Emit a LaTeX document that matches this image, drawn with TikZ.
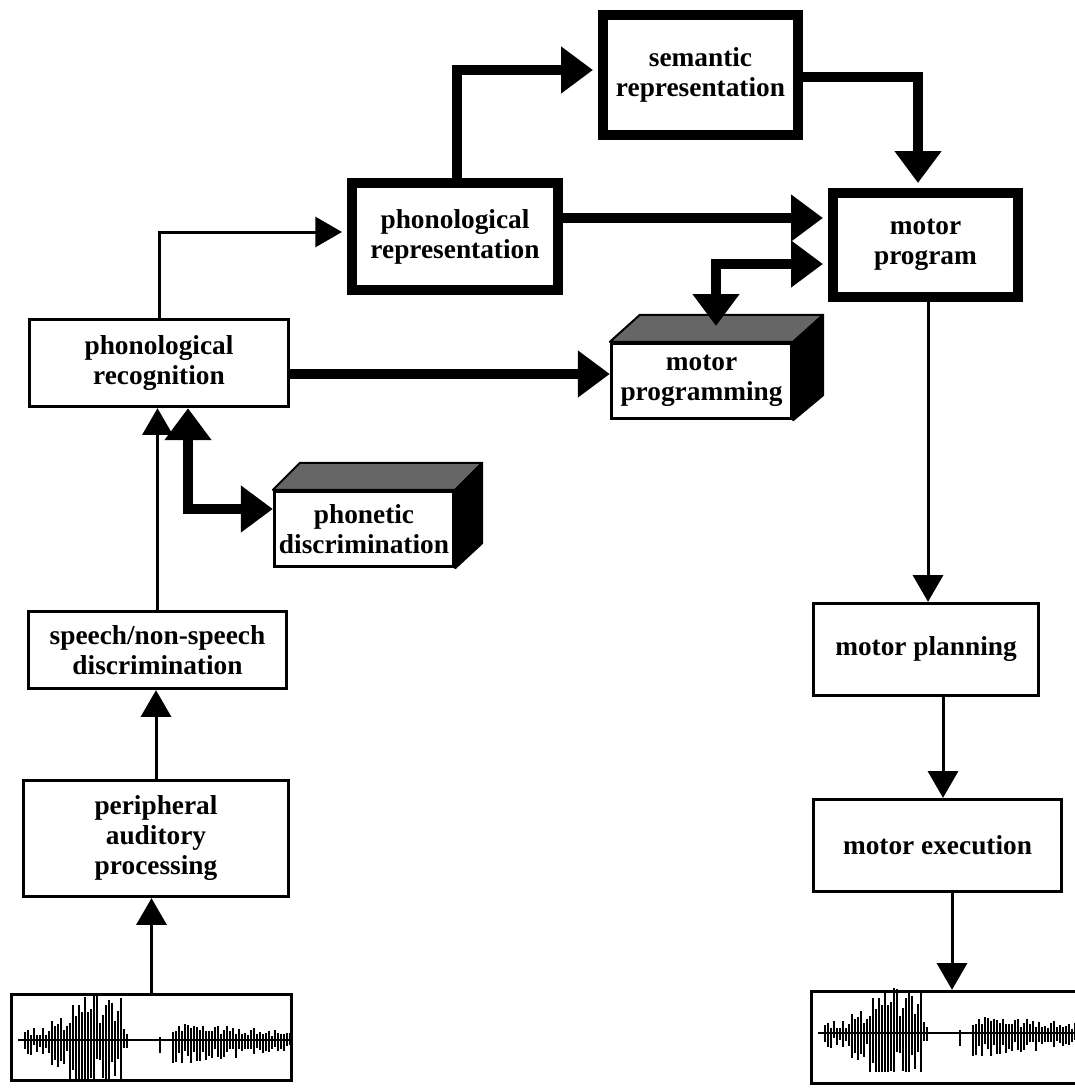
\documentclass[tikz,border=0pt]{standalone}
\usepackage{fontspec}
\setmainfont{Liberation Serif}
\newfontfamily\lblfont{Liberation Serif Bold}
\usetikzlibrary{arrows.meta}
\newcommand\mywave[2]{%
  \begin{scope}[shift={(#1,#2)}]
    \pgfmathsetseed{12}
    \draw[line width=2.2pt] (8,0) -- (280,0);
    \foreach \t in {15,18,...,117}{%
      \pgfmathsetmacro\env{(\t<42)?13:((\t<60)?24:((\t<112)?46:15))}%
      \pgfmathsetmacro\up{\env*(0.35+0.65*rnd)}%
      \pgfmathsetmacro\dn{min(\env*(0.4+0.75*rnd),39)}%
      \draw[line width=2pt] (\t,-\up) -- (\t,\dn);
    }
    \draw[line width=2.2pt] (150,-3) -- (150,13);
    \foreach \t in {163,166,...,281}{%
      \pgfmathsetmacro\f{(\t-162)/120}%
      \pgfmathsetmacro\up{18*(1-0.5*\f)*(0.4+0.6*rnd)}%
      \pgfmathsetmacro\dn{26*(1-0.6*\f)*(0.4+0.6*rnd)}%
      \draw[line width=2pt] (\t,-\up) -- (\t,\dn);
    }
  \end{scope}}
\begin{document}
\begin{tikzpicture}[x=0.75pt,y=-0.75pt,
  lbl/.style={font=\lblfont\fontsize{20.5}{22.5}\selectfont, align=center, inner sep=0pt},
  wh/.style 2 args={minimum width=#1*0.75pt, minimum height=#2*0.75pt},
  thickbox/.style={lbl, draw, line width=7.5pt, fill=white},
  thinbox/.style={lbl, draw, line width=2.5pt, fill=white},
  thickarrow/.style={line width=7.5pt, -{Triangle[width=33.75pt,length=24pt]}},
  thickboth/.style={line width=7.5pt, {Triangle[width=33.75pt,length=24pt]}-{Triangle[width=33.75pt,length=24pt]}},
  thinarrow/.style={line width=2.25pt, -{Triangle[width=22.5pt,length=20pt]}},
  topface/.style={fill=black!60, line width=1.5pt, line join=round},
  sideface/.style={fill=black, line width=1.5pt, line join=round},
]
\useasboundingbox (0,0) rectangle (1074,1088);
\fill[white] (0,0) rectangle (1074,1088);

% boxes
\node[thickbox, wh={195}{120}] (semantic) at (700.5,75) {semantic\\representation};
\node[thickbox, wh={206}{107}] (phonrep) at (455,236.5) {phonological\\representation};
\node[thickbox, wh={185}{104}] (motorprog) at (925.5,245) {motor\\program};
\node[thinbox, wh={259}{87}] (phonrec) at (159,363) {phonological\\recognition};
\node[thinbox, wh={258}{77}] (speech) at (157.5,650) {speech/non-speech\\discrimination};
\node[thinbox, wh={265}{116}] (periph) at (156,838.5) {peripheral\\auditory\\processing};
\node[thinbox, wh={225}{92}] (motorplan) at (926,649.5) {motor planning};
\node[thinbox, wh={248}{92}] (motorexec) at (937.5,845.5) {motor execution};
\node[thinbox, wh={280}{86}] (wave1) at (151.5,1037.5) {};
\node[thinbox, wh={277}{92}] (wave2) at (950,1037.5) {};
\mywave{10}{1040}
\mywave{810}{1033}

% 3D boxes
\node[thinbox, wh={180}{75}] (mprog) at (701.5,381) {motor\\programming};
\filldraw[topface] (mprog.north west) -- ++(30,-27) -- ([shift={(30,-27)}]mprog.north east) -- (mprog.north east) -- cycle;
\filldraw[sideface] (mprog.north east) -- ++(30,-27) -- ([shift={(30,-25)}]mprog.south east) -- (mprog.south east) -- cycle;
\coordinate (mptop) at (716,326);

\node[thinbox, wh={179}{75}] (phonetic) at (364,529) {phonetic\\discrimination};
\filldraw[topface] (phonetic.north west) -- ++(27,-27) -- ([shift={(27,-27)}]phonetic.north east) -- (phonetic.north east) -- cycle;
\filldraw[sideface] (phonetic.north east) -- ++(27,-27) -- ([shift={(27,-25)}]phonetic.south east) -- (phonetic.south east) -- cycle;

% connectors
\draw[thinarrow] (wave1.north) -- (wave1.north |- periph.south);
\draw[thinarrow] (periph.north) -- (periph.north |- speech.south);
\draw[thinarrow] (speech.north) -- (speech.north |- phonrec.south);
\draw[thinarrow, shorten >=3.75pt] (phonrec.north) |- (phonrep.west |- 0,232);
\draw[thickarrow, shorten >=3.75pt] (phonrep.north -| 457,0) |- (semantic.west |- 0,70);
\draw[thickarrow, shorten >=3.75pt] (semantic.east |- 0,77) -| (motorprog.north -| 918,0);
\draw[thickarrow, shorten >=3.75pt] (phonrep.east |- 0,218) -- (motorprog.west |- 0,218);
\draw[thickboth, shorten >=3.75pt] (mptop) |- (motorprog.west |- 0,264);
\draw[thickarrow] (phonrec.east |- 0,374) -- (mprog.west |- 0,374);
\draw[thickboth] (phonrec.south -| 188,0) |- (phonetic.west |- 0,509);
\draw[thinarrow] (motorprog.south -| 928,0) -- (motorplan.north -| 928,0);
\draw[thinarrow] (motorplan.south -| 943,0) -- (motorexec.north -| 943,0);
\draw[thinarrow] (motorexec.south -| 952,0) -- (wave2.north -| 952,0);
\end{tikzpicture}
\end{document}
